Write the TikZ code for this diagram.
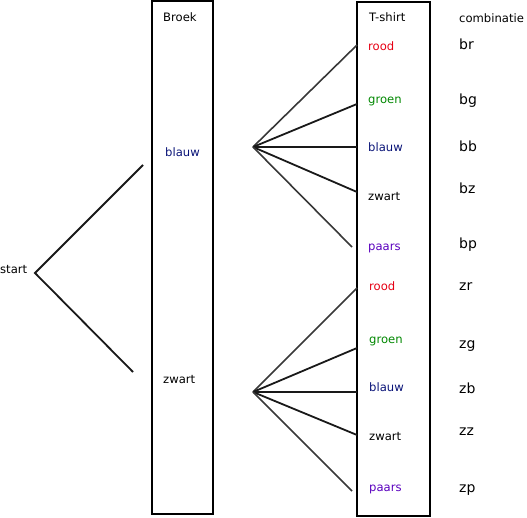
\documentclass[tikz,border=0pt]{standalone}
\usepackage{fontspec}
\setmainfont{DejaVu Sans}
\definecolor{cred}{RGB}{230,0,20}
\definecolor{cgreen}{RGB}{0,135,0}
\definecolor{cnavy}{RGB}{10,20,120}
\definecolor{cpurple}{RGB}{90,0,190}
\begin{document}
\begin{tikzpicture}[x=1pt,y=-1pt,
  lbl/.style={font=\fontsize{11.6}{14}\selectfont, inner sep=0pt, anchor=west},
  combo/.style={font=\fontsize{14}{16}\selectfont, inner sep=0pt, anchor=west},
  edge/.style={line width=1.8pt, draw=black!90},
  edgel/.style={line width=1.6pt, draw=black!78}]
\useasboundingbox (0,0) rectangle (527,518);
% boxes
\draw[line width=1.6pt] (152,1) rectangle (213,514);
\draw[line width=1.6pt] (357,2) rectangle (430,516);
% headers
\node[lbl] (hbroek) at (163,17) {Broek};
\node[lbl] (htshirt) at (369,17) {T-shirt};
\node[lbl] (hcomb) at (459,18) {combinatie};
% start
\node[lbl] (start) at (0,270) {start};
\coordinate (s) at (35,273);
\coordinate (b1) at (143,165);
\coordinate (b2) at (133,372);
\draw[edge] (b1) -- (s) -- (b2);
\node[lbl, text=cnavy] (bblauw) at (165,152) {blauw};
\node[lbl] (bzwart) at (163,380) {zwart};
% upper fan
\coordinate (a1) at (253,147);
\coordinate (u1) at (357,45);
\coordinate (u2) at (357,104);
\coordinate (u3) at (357,147);
\coordinate (u4) at (357,192);
\coordinate (u5) at (352,247);
\draw[edgel] (a1) -- (u1);
\draw[edge] (a1) -- (u2);
\draw[edge] (a1) -- (u3);
\draw[edge] (a1) -- (u4);
\draw[edgel] (a1) -- (u5);
% lower fan
\coordinate (a2) at (253,392);
\coordinate (l1) at (357,288);
\coordinate (l2) at (357,348);
\coordinate (l3) at (357,392);
\coordinate (l4) at (357,435);
\coordinate (l5) at (352,491);
\draw[edgel] (a2) -- (l1);
\draw[edge] (a2) -- (l2);
\draw[edge] (a2) -- (l3);
\draw[edge] (a2) -- (l4);
\draw[edgel] (a2) -- (l5);
% T-shirt labels upper
\node[lbl, text=cred] (t1) at (368,46) {rood};
\node[lbl, text=cgreen] (t2) at (368,101) {groen};
\node[lbl, text=cnavy] (t3) at (368,147) {blauw};
\node[lbl] (t4) at (368,197) {zwart};
\node[lbl, text=cpurple] (t5) at (368,248) {paars};
% T-shirt labels lower
\node[lbl, text=cred] (t6) at (369,286) {rood};
\node[lbl, text=cgreen] (t7) at (369,341) {groen};
\node[lbl, text=cnavy] (t8) at (369,387) {blauw};
\node[lbl] (t9) at (369,437) {zwart};
\node[lbl, text=cpurple] (t10) at (369,489) {paars};
% combinations
\node[combo] (c1) at (459,44) {br};
\node[combo] (c2) at (459,101) {bg};
\node[combo] (c3) at (459,146) {bb};
\node[combo] (c4) at (459,188) {bz};
\node[combo] (c5) at (459,245) {bp};
\node[combo] (c6) at (459,287) {zr};
\node[combo] (c7) at (459,346) {zg};
\node[combo] (c8) at (459,388) {zb};
\node[combo] (c9) at (459,432) {zz};
\node[combo] (c10) at (459,490) {zp};
\end{tikzpicture}
\end{document}
